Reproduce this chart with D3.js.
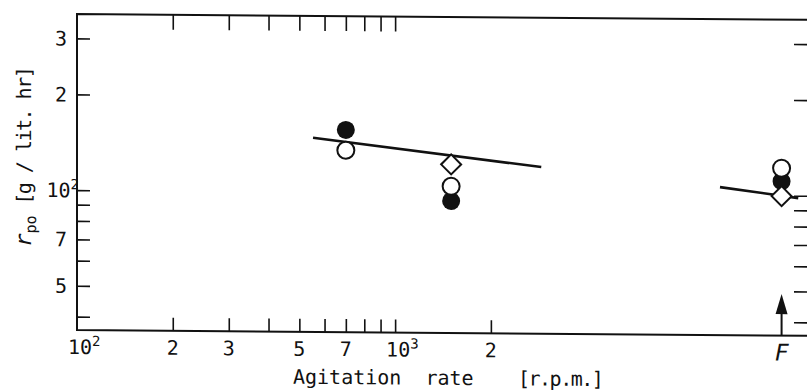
<!DOCTYPE html>
<html>
<head>
<meta charset="utf-8">
<title>r_po vs agitation rate</title>
<script src="https://cdn.jsdelivr.net/npm/d3@7"></script>
<style>
    body { margin: 0; background: #fff; }
    text { font-family: "DejaVu Sans Mono", monospace; fill: #111; }
</style>
</head>
<body>
<script>
// agitation rate [r.p.m.] vs r_po [g/lit.hr]; F = shaking flask position
var fPos = 16400;
var filledX = [700, 1500, fPos],
    filledY = [157, 94.4, 111];
var openX = [700, 1500, fPos],
    openY = [135.5, 105, 122];
var diamondX = [1500, fPos],
    diamondY = [123, 99.6];
var lineA = [[552, 148], [2880, 121.3]],
    lineB = [[10500, 106], [18500, 98.3]];
var arrowTip = 49;

var xTickVals = [200, 300, 400, 500, 600, 700, 800, 900, 1000, 2000],
    topTickVals = [200, 300, 400, 500, 600, 700, 800, 900, 1000],
    xLabelVals = [100, 200, 300, 500, 700, 1000, 2000],
    xLabelText = ["10^2", "2", "3", "5", "7", "10^3", "2"];
var yTickVals = [40, 50, 60, 70, 80, 90, 100, 200, 300],
    yLabelVals = [50, 70, 100, 200, 300],
    yLabelText = ["5", "7", "10^2", "2", "3"];

var width = 807, height = 392;
var skewDeg = 0.45;

var x = d3.scaleLog().domain([100, 20000]).range([77, 809]);
var y = d3.scaleLog().domain([36.3, 358]).range([330, 14]);

var svg = d3.select("body").append("svg")
    .attr("width", width)
    .attr("height", height);
svg.append("rect").attr("width", width).attr("height", height).attr("fill", "#fff");

var g = svg.append("g")
    .attr("transform", "translate(0," + (-77 * Math.tan(skewDeg * Math.PI / 180)) + ") skewY(" + skewDeg + ")");

// frame
var x0 = x.range()[0], x1 = x.range()[1], yb = y.range()[0], yt = y.range()[1];
g.append("path")
    .attr("d", "M" + x1 + "," + yt + "H" + x0 + "V" + yb + "H" + x1)
    .attr("fill", "none").attr("stroke", "#111").attr("stroke-width", 2);

function ticks(axis, tr) {
    g.append("g").attr("transform", tr)
        .call(axis.tickFormat(""))
        .call(function(s){ s.select(".domain").remove(); })
        .selectAll("line").attr("stroke", "#111").attr("stroke-width", 1.6);
}
ticks(d3.axisBottom(x).tickValues(xTickVals).tickSize(-13), "translate(0," + yb + ")");
ticks(d3.axisTop(x).tickValues(topTickVals).tickSize(-15), "translate(0," + yt + ")");
ticks(d3.axisLeft(y).tickValues(yTickVals).tickSize(-13), "translate(" + x0 + ",0)");
ticks(d3.axisRight(y).tickValues(yTickVals).tickSize(-15), "translate(" + x1 + ",0)");

function powLabel(sel, s) {
    var p = s.split("^");
    sel.append("tspan").text(p[0]);
    if (p[1]) sel.append("tspan").attr("font-size", 14).attr("dy", -8).text(p[1]);
}

// x tick labels
xLabelVals.forEach(function(v, i) {
    var t = g.append("text")
        .attr("font-size", 20)
        .attr("y", yb + 24);
    if (xLabelText[i].indexOf("^") >= 0) {
        t.attr("x", x(v) - 9).attr("text-anchor", "start");
    } else {
        t.attr("x", x(v)).attr("text-anchor", "middle");
    }
    powLabel(t, xLabelText[i]);
});

// y tick labels
yLabelVals.forEach(function(v, i) {
    var t = g.append("text")
        .attr("font-size", 20)
        .attr("text-anchor", "end")
        .attr("x", yLabelText[i].indexOf("^") >= 0 ? 79 : 67)
        .attr("y", y(v))
        .attr("dy", "0.36em");
    powLabel(t, yLabelText[i]);
});

// axis titles
var xl = g.append("text")
    .attr("x", 293).attr("y", 382)
    .attr("font-size", 20)
    .style("white-space", "pre");
xl.append("tspan").text("Agitation  rate");
xl.append("tspan").attr("x", 518).attr("letter-spacing", -1.5).text("[r.p.m.]");

var yl = g.append("text")
    .attr("transform", "translate(31,247) rotate(-90)")
    .style("white-space", "pre");
yl.append("tspan").attr("font-size", 22).attr("font-style", "italic").text("r");
yl.append("tspan").attr("font-size", 15).attr("dy", 5).text("po");
yl.append("tspan").attr("font-size", 20).attr("dy", -5).attr("letter-spacing", -1.5).text(" [g / lit. hr]");

// fitted lines
var line = d3.line().x(function(d){ return x(d[0]); }).y(function(d){ return y(d[1]); });
g.selectAll(".fit").data([lineA, lineB]).enter().append("path")
    .attr("class", "fit")
    .attr("d", line)
    .attr("fill", "none").attr("stroke", "#111").attr("stroke-width", 2.6);

// markers
g.selectAll(".filled").data(filledX).enter().append("circle")
    .attr("cx", function(d){ return x(d); })
    .attr("cy", function(d, i){ return y(filledY[i]); })
    .attr("r", 9).attr("fill", "#111");
g.selectAll(".open").data(openX).enter().append("circle")
    .attr("cx", function(d){ return x(d); })
    .attr("cy", function(d, i){ return y(openY[i]); })
    .attr("r", 8.5).attr("fill", "#fff").attr("stroke", "#111").attr("stroke-width", 2);
var sq = d3.symbol().type(d3.symbolSquare).size(200);
g.selectAll(".dia").data(diamondX).enter().append("path")
    .attr("d", sq)
    .attr("transform", function(d, i){ return "translate(" + x(d) + "," + y(diamondY[i]) + ") rotate(45)"; })
    .attr("fill", "#fff").attr("stroke", "#111").attr("stroke-width", 2);

// F arrow
var ax = x(fPos), tipY = y(arrowTip);
g.append("line")
    .attr("x1", ax).attr("x2", ax).attr("y1", yb).attr("y2", tipY + 18)
    .attr("stroke", "#111").attr("stroke-width", 2);
g.append("path")
    .attr("d", "M" + ax + "," + tipY + "L" + (ax + 6) + "," + (tipY + 20) + "L" + (ax - 6) + "," + (tipY + 20) + "Z")
    .attr("fill", "#111");
g.append("text")
    .attr("x", ax).attr("y", yb + 25)
    .attr("text-anchor", "middle")
    .attr("font-family", "DejaVu Sans").attr("font-style", "italic").attr("font-size", 23)
    .text("F");
</script>
</body>
</html>
